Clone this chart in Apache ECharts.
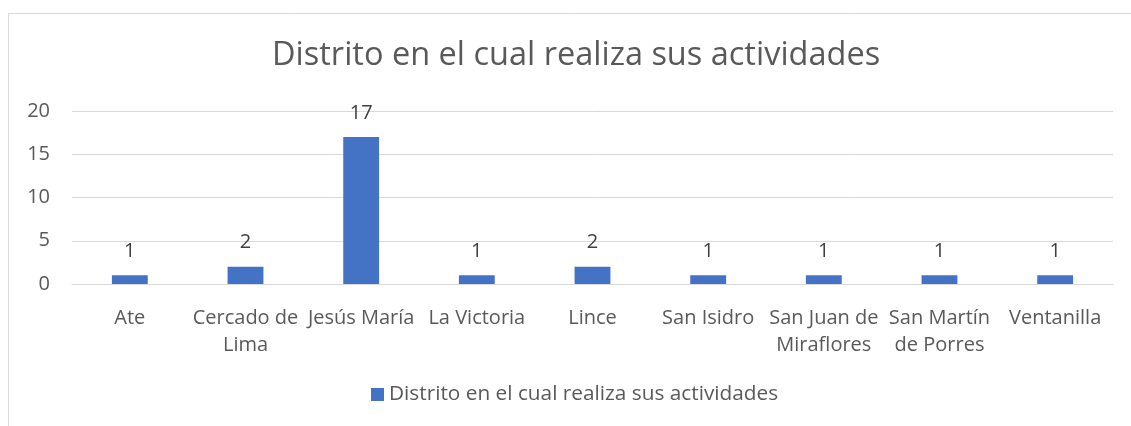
<!DOCTYPE html>
<html>
<head>
<meta charset="utf-8">
<script src="https://cdn.jsdelivr.net/npm/echarts@6/dist/echarts.min.js"></script>
<style>html,body{margin:0;padding:0;background:#fff}#c{width:1131px;height:426px}</style>
</head>
<body>
<div id="c"></div>
<script>
const title = "Distrito en el cual realiza sus actividades";
const seriesName = "Distrito en el cual realiza sus actividades";
const categories = ["Ate", "Cercado de\nLima", "Jesús María", "La Victoria", "Lince", "San Isidro", "San Juan de\nMiraflores", "San Martín\nde Porres", "Ventanilla"];
const values = [1, 2, 17, 1, 2, 1, 1, 1, 1];
const yTicks = [0, 5, 10, 15, 20];

const FONT = "Open Sans";
const TXT = "#595959";
const chart = echarts.init(document.getElementById('c'), null, {renderer: 'canvas'});
chart.setOption({
  backgroundColor: '#fff',
  animation: false,
  graphic: [{
    type: 'rect', shape: {x: 8.5, y: 13.5, width: 1140, height: 430},
    style: {fill: 'none', stroke: '#d9d9d9', lineWidth: 1}, silent: true
  }],
  title: {
    text: title, left: 267, top: 34,
    textStyle: {fontFamily: FONT, fontSize: 32.5, fontWeight: 'normal', color: TXT}
  },
  legend: {
    bottom: 16, left: 366, itemWidth: 13, itemHeight: 13, icon: 'rect', itemGap: 7,
    textStyle: {fontFamily: FONT, fontSize: 20.8, color: TXT}
  },
  grid: {left: 72, right: 18, top: 111, bottom: 142},
  xAxis: {
    type: 'category', data: categories,
    axisLine: {show: true, lineStyle: {color: '#d9d9d9', width: 1}},
    axisTick: {show: false},
    axisLabel: {fontFamily: FONT, fontSize: 20, color: TXT, margin: 21, lineHeight: 27, interval: 0}
  },
  yAxis: {
    type: 'value', min: yTicks[0], max: yTicks[yTicks.length - 1], interval: 5,
    axisLine: {show: false}, axisTick: {show: false},
    splitLine: {lineStyle: {color: '#d9d9d9', width: 1}},
    axisLabel: {fontFamily: FONT, fontSize: 20, color: TXT, margin: 22}
  },
  series: [{
    name: seriesName, type: 'bar', data: values, barWidth: '31%',
    itemStyle: {color: '#4472C4'},
    label: {show: true, position: 'top', distance: 14, fontFamily: FONT, fontSize: 20, color: '#404040'}
  }]
});
</script>
</body>
</html>
